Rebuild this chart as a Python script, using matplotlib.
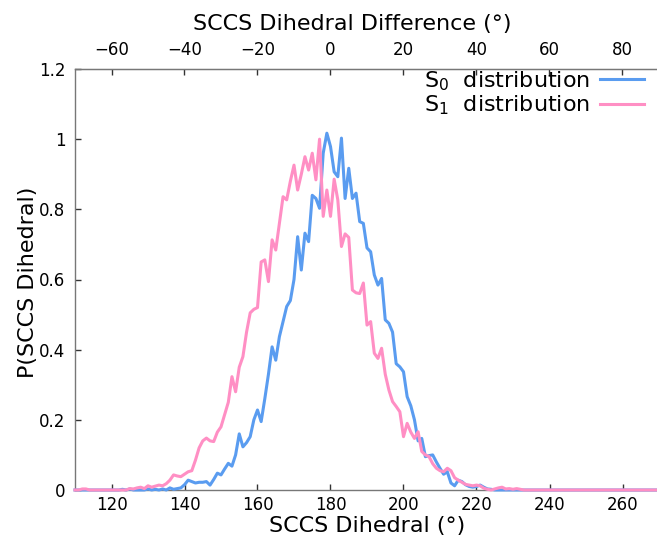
import numpy as np
import matplotlib
matplotlib.use("Agg")
import matplotlib.pyplot as plt
from matplotlib.ticker import FuncFormatter

# ---- data (degree bins 110..270) ----
angles = list(range(110, 271))

s1_core = {  # S1 distribution values
    112: 0.003, 113: 0.003, 125: 0.004, 126: 0.003, 127: 0.006, 128: 0.008, 129: 0.004,
    130: 0.012, 131: 0.008, 132: 0.011, 133: 0.014, 134: 0.012, 135: 0.018,
    136: 0.028, 137: 0.043, 138: 0.040, 139: 0.038, 140: 0.045, 141: 0.052,
    142: 0.055, 143: 0.085, 144: 0.120, 145: 0.140, 146: 0.148, 147: 0.140,
    148: 0.138, 149: 0.165, 150: 0.180, 151: 0.215, 152: 0.250, 153: 0.323,
    154: 0.280, 155: 0.350, 156: 0.380, 157: 0.450, 158: 0.505, 159: 0.515,
    160: 0.520, 161: 0.650, 162: 0.656, 163: 0.594, 164: 0.713, 165: 0.684,
    166: 0.760, 167: 0.836, 168: 0.827, 169: 0.880, 170: 0.926, 171: 0.855,
    172: 0.900, 173: 0.950, 174: 0.912, 175: 0.960, 176: 0.884, 177: 1.000,
    178: 0.780, 179: 0.855, 180: 0.780, 181: 0.886, 182: 0.827, 183: 0.694,
    184: 0.730, 185: 0.720, 186: 0.570, 187: 0.562, 188: 0.560, 189: 0.590,
    190: 0.470, 191: 0.480, 192: 0.390, 193: 0.375, 194: 0.404, 195: 0.330,
    196: 0.285, 197: 0.252, 198: 0.238, 199: 0.223, 200: 0.152, 201: 0.190,
    202: 0.165, 203: 0.147, 204: 0.166, 205: 0.110, 206: 0.100, 207: 0.095,
    208: 0.075, 209: 0.062, 210: 0.055, 211: 0.052, 212: 0.062, 213: 0.055,
    214: 0.035, 215: 0.028, 216: 0.022, 217: 0.016, 218: 0.014, 219: 0.012,
    220: 0.014, 221: 0.012, 222: 0.005, 223: 0.002, 225: 0.003, 226: 0.006,
    227: 0.008, 228: 0.003, 229: 0.004, 230: 0.002, 231: 0.004, 232: 0.002,
}
s0_core = {  # S0 distribution values
    123: 0.002, 125: 0.003, 130: 0.003, 132: 0.002, 134: 0.003, 136: 0.006,
    137: 0.002, 138: 0.004, 139: 0.006, 140: 0.015, 141: 0.028, 142: 0.024,
    143: 0.020, 144: 0.022, 145: 0.022, 146: 0.024, 147: 0.014, 148: 0.030,
    149: 0.048, 150: 0.043, 151: 0.060, 152: 0.076, 153: 0.068, 154: 0.100,
    155: 0.160, 156: 0.123, 157: 0.135, 158: 0.152, 159: 0.200, 160: 0.228,
    161: 0.195, 162: 0.260, 163: 0.330, 164: 0.408, 165: 0.370, 166: 0.437,
    167: 0.480, 168: 0.523, 169: 0.540, 170: 0.600, 171: 0.722, 172: 0.627,
    173: 0.732, 174: 0.708, 175: 0.840, 176: 0.831, 177: 0.803, 178: 0.960,
    179: 1.017, 180: 0.979, 181: 0.907, 182: 0.893, 183: 1.003, 184: 0.831,
    185: 0.917, 186: 0.831, 187: 0.846, 188: 0.765, 189: 0.760, 190: 0.690,
    191: 0.679, 192: 0.613, 193: 0.584, 194: 0.603, 195: 0.485, 196: 0.475,
    197: 0.450, 198: 0.360, 199: 0.351, 200: 0.337, 201: 0.266, 202: 0.240,
    203: 0.200, 204: 0.140, 205: 0.147, 206: 0.095, 207: 0.098, 208: 0.100,
    209: 0.080, 210: 0.062, 211: 0.045, 212: 0.052, 213: 0.020, 214: 0.012,
    215: 0.028, 216: 0.024, 217: 0.015, 218: 0.010, 219: 0.008, 220: 0.010,
    221: 0.014, 222: 0.008, 223: 0.003, 224: 0.002,
}
s0_values = [s0_core.get(a, 0.0) for a in angles]
s1_values = [s1_core.get(a, 0.0) for a in angles]

labels = ["S$_0$  distribution", "S$_1$  distribution"]
xticks_bottom = [120, 140, 160, 180, 200, 220, 240, 260]
xticks_top = [-60, -40, -20, 0, 20, 40, 60, 80]
yticks = [0, 0.2, 0.4, 0.6, 0.8, 1.0, 1.2]

W, H = 657, 538
fig = plt.figure(figsize=(W / 100, H / 100), dpi=100)
L, R, T, B = 75, 659, 69, 490
ax = fig.add_axes([L / W, 1 - B / H, (R - L) / W, (B - T) / H])

blue = "#5a9cf0"
pink = "#ff8fc4"
ax.plot(angles, s0_values, color=blue, lw=2.2, label=labels[0], clip_on=False, zorder=3)
ax.plot(angles, s1_values, color=pink, lw=2.2, label=labels[1], clip_on=False, zorder=3)

ax.set_xlim(110, 270)
ax.set_ylim(0, 1.2)

spine_col = "#777777"
for s in ["left", "bottom", "top"]:
    ax.spines[s].set_color(spine_col)
    ax.spines[s].set_linewidth(1.0)
ax.spines["right"].set_visible(False)
ax.spines["top"].set_zorder(4)

ax.set_xticks(xticks_bottom)
ax.set_yticks(yticks)
ax.yaxis.set_major_formatter(FuncFormatter(lambda v, p: "%g" % round(v, 2)))
ax.tick_params(axis="x", direction="in", length=4, width=1, color="#333333",
               labelsize=12, pad=4, top=False)
ax.tick_params(axis="y", direction="in", length=4, width=1, color="#333333",
               labelsize=12, pad=7, right=False)

sec = ax.secondary_xaxis("top", functions=(lambda x: x - 180, lambda x: x + 180))
sec.set_xticks(xticks_top)
sec.tick_params(direction="in", length=4, width=1, color="#333333", labelsize=12, pad=7)
sec.spines["top"].set_color(spine_col)

fig.text(367 / W, 1 - 526 / H, "SCCS Dihedral (°)", ha="center", va="center", fontsize=16)
fig.text(352 / W, 1 - 24 / H, "SCCS Dihedral Difference (°)", ha="center", va="center", fontsize=16)
fig.text(28 / W, 1 - 282 / H, "P(SCCS Dihedral)", ha="center", va="center", rotation=90, fontsize=16)

leg = ax.legend(loc="upper right", bbox_to_anchor=(644 / W, 1 - 69 / H),
                bbox_transform=fig.transFigure, frameon=False, markerfirst=False,
                fontsize=16, handlelength=2.0, handletextpad=0.45, labelspacing=0.05,
                borderpad=0, borderaxespad=0)
for line in leg.get_lines():
    line.set_linewidth(2.2)

fig.savefig("out.png", dpi=100)
